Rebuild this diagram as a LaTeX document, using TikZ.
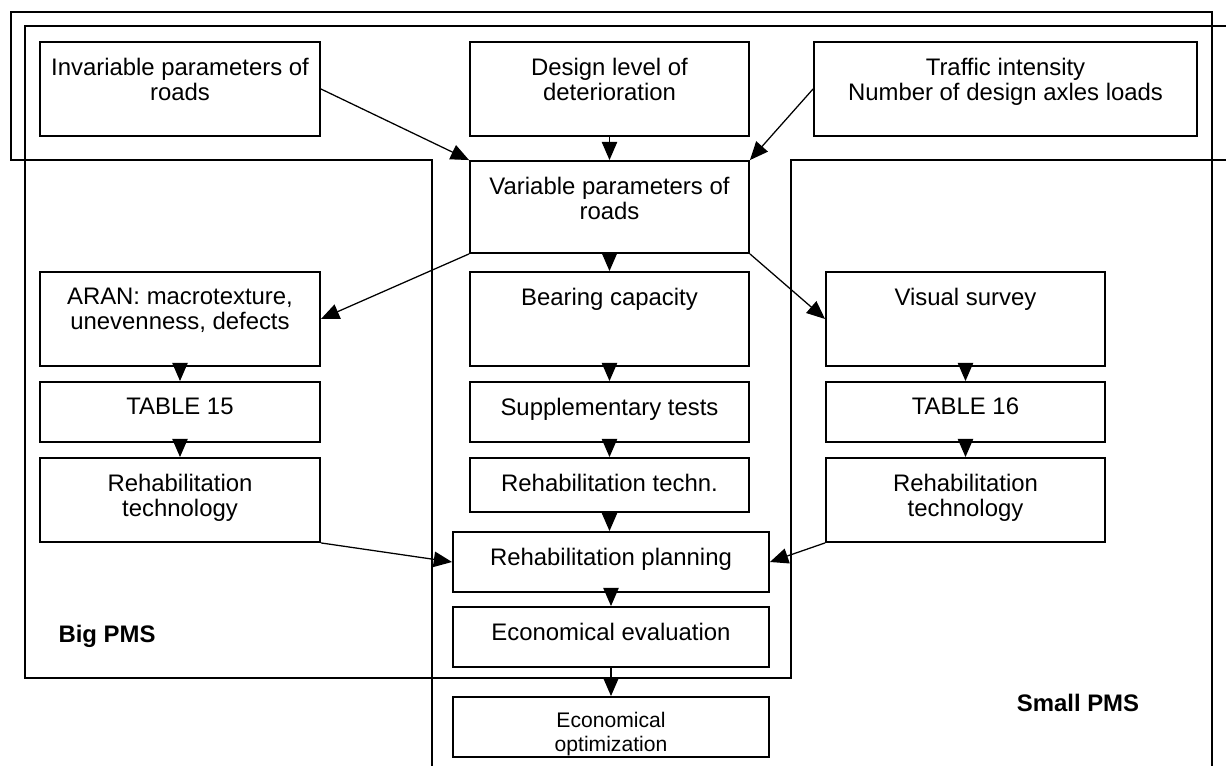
\documentclass[tikz,border=0pt]{standalone}
\usepackage{fontspec}
\setmainfont{Liberation Sans}
\usetikzlibrary{arrows.meta}

\begin{document}
\begin{tikzpicture}[
        x=0.025cm, y=-0.025cm,
        frame/.style={line width=1.3pt},
        stepbox/.style={draw, line width=1.3pt, minimum width=6.975cm, inner sep=0pt},
        boxtext/.style={anchor=north, inner sep=0pt, yshift=-12pt, align=center, font=\fontsize{17}{18}\selectfont},
        arrow/.style={-{Triangle[length=13pt,width=11pt]}, line width=0.9pt},
        pms/.style={font=\fontsize{17}{18}\selectfont\bfseries}
    ]
        \clip (0,0) rectangle (1226,766);

        % Small PMS and Big PMS frames
        \draw[frame] (432,800) -- (432,160) -- (11,160) -- (11,12) -- (1212,12) -- (1212,800);
        \draw[frame] (1240,26) -- (25,26) -- (25,678) -- (791,678) -- (791,160) -- (1240,160);

        \node[stepbox, minimum width=7cm, minimum height=2.35cm,
              label={[boxtext]north:Invariable parameters of\\roads}] (inv) at (180,89) {};
        \node[stepbox, minimum height=2.35cm,
              label={[boxtext]north:Design level of\\deterioration}] (design) at (609.5,89) {};
        \node[stepbox, minimum width=9.575cm, minimum height=2.35cm,
              label={[boxtext]north:Traffic intensity\\Number of design axles loads}] (traffic) at (1005.5,89) {};
        \node[stepbox, minimum height=2.3cm,
              label={[boxtext]north:Variable parameters of\\roads}] (var) at (609.5,207) {};

        \node[stepbox, minimum width=7cm, minimum height=2.35cm,
              label={[boxtext]north:ARAN: macrotexture,\\unevenness, defects}] (aran) at (180,319) {};
        \node[stepbox, minimum height=2.35cm,
              label={[boxtext]north:Bearing capacity}] (bear) at (609.5,319) {};
        \node[stepbox, minimum height=2.35cm,
              label={[boxtext]north:Visual survey}] (visual) at (965.5,319) {};

        \node[stepbox, minimum width=7cm, minimum height=1.5cm,
              label={[boxtext]north:TABLE 15}] (tab15) at (180,412) {};
        \node[stepbox, minimum height=1.5cm,
              label={[boxtext]north:Supplementary tests}] (supp) at (609.5,412) {};
        \node[stepbox, minimum height=1.5cm,
              label={[boxtext]north:TABLE 16}] (tab16) at (965.5,412) {};

        \node[stepbox, minimum width=7cm, minimum height=2.1cm,
              label={[boxtext]north:Rehabilitation\\technology}] (rehleft) at (180,500) {};
        \node[stepbox, minimum height=1.35cm,
              label={[boxtext]north:Rehabilitation techn.}] (rehmid) at (609.5,485) {};
        \node[stepbox, minimum height=2.1cm,
              label={[boxtext]north:Rehabilitation\\technology}] (rehright) at (965.5,500) {};

        \node[stepbox, minimum width=7.9cm, minimum height=1.5cm,
              label={[boxtext]north:Rehabilitation planning}] (plan) at (611,562) {};
        \node[stepbox, minimum width=7.9cm, minimum height=1.5cm,
              label={[boxtext]north:Economical evaluation}] (evalu) at (611,637) {};
        \node[stepbox, minimum width=7.9cm, minimum height=1.5cm,
              label={[boxtext, yshift=1pt, font=\fontsize{15}{17}\selectfont]north:Economical\\optimization}] (optim) at (611,727) {};

        \node[pms] (bigpms) at (107,636) {Big PMS};
        \node[pms] (smallpms) at (1078,703) {Small PMS};

        \draw[arrow] (inv.east) -- (var.north west);
        \draw[arrow] (design) -- (var);
        \draw[arrow] (traffic.west) -- (var.north east);

        \draw[arrow] (var.south west) -- (aran.east);
        \draw[arrow] (var) -- (bear);
        \draw[arrow] (var.south east) -- (visual.west);

        \draw[arrow, shorten <=-7pt] (aran.south) -- (tab15.north);
        \draw[arrow, shorten <=-7pt] (bear.south) -- (supp.north);
        \draw[arrow, shorten <=-7pt] (visual.south) -- (tab16.north);

        \draw[arrow] (tab15) -- (rehleft);
        \draw[arrow] (supp) -- (rehmid);
        \draw[arrow] (tab16) -- (rehright);

        \draw[arrow] (rehleft.south east) -- (plan.west);
        \draw[arrow] (rehmid.south) -- (rehmid.south |- plan.north);
        \draw[arrow] (rehright.south west) -- (plan.east);

        \draw[arrow] (plan) -- (evalu);
        \draw[arrow] (evalu) -- (optim);
    \end{tikzpicture}
\end{document}
